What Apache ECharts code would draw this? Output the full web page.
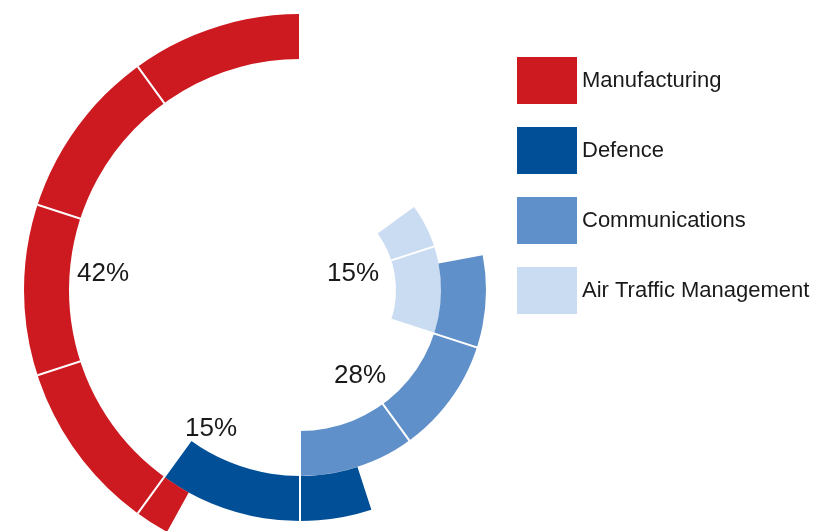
<!DOCTYPE html>
<html>
<head>
<meta charset="utf-8">
<script src="https://cdn.jsdelivr.net/npm/echarts@6/dist/echarts.min.js"></script>
<style>
  html, body { margin: 0; padding: 0; background: #fff; }
  #chart { width: 814px; height: 531px; }
</style>
</head>
<body>
<div id="chart"></div>
<script>
// rings, from the inside out
const rings = ['Air Traffic Management', 'Communications', 'Defence', 'Manufacturing']
const shares = [15, 28, 15, 42]      // % shown in each ring
const starts = [70, 50, 40, 0]       // where each ring begins on the 0-100 dial
const colors = ['#c9dcf1', '#5f90c9', '#014f97', '#cd1a21']
const legendOrder = ['Manufacturing', 'Defence', 'Communications', 'Air Traffic Management']

const chart = echarts.init(document.getElementById('chart'))

// invisible piece that pushes each ring to its start angle
const offsetSeries = {
  name: 'offset',
  type: 'bar',
  coordinateSystem: 'polar',
  stack: 'ring',
  barCategoryGap: '0%',
  silent: true,
  itemStyle: { color: 'rgba(0,0,0,0)' },
  data: starts
}

const ringSeries = rings.map((name, i) => ({
  name: name,
  type: 'bar',
  coordinateSystem: 'polar',
  stack: 'ring',
  barCategoryGap: '0%',
  itemStyle: { color: colors[i] },
  data: rings.map((_, j) => (j === i ? shares[i] : 0))
}))

// percent labels, placed beside their rings
const labelPos = {
  'Manufacturing': [103, 274],
  'Defence': [211, 429],
  'Communications': [360, 376],
  'Air Traffic Management': [353, 274]
}
const labels = rings.map((name, i) => ({
  type: 'text',
  z: 100,
  x: labelPos[name][0],
  y: labelPos[name][1],
  style: {
    text: shares[i] + '%',
    fill: '#1a1a1a',
    font: '26px "Liberation Sans", Arial, sans-serif',
    textAlign: 'center',
    textVerticalAlign: 'middle'
  }
}))

const option = {
  animation: false,
  backgroundColor: '#fff',
  polar: {
    center: [300, 290],
    radius: [96, 276]
  },
  angleAxis: {
    type: 'value',
    min: 0,
    max: 100,
    interval: 10,
    startAngle: 90,
    clockwise: false,
    z: 10,
    axisLine: { show: false },
    axisTick: { show: false },
    axisLabel: { show: false },
    // white dividers every 10%
    splitLine: { show: true, lineStyle: { color: '#fff', width: 2 } }
  },
  radiusAxis: {
    type: 'category',
    data: rings,
    axisLine: { show: false },
    axisTick: { show: false },
    axisLabel: { show: false },
    splitLine: { show: false }
  },
  legend: {
    data: legendOrder,
    orient: 'vertical',
    left: 512,
    top: 52,
    z: 20,
    icon: 'rect',
    itemWidth: 60,
    itemHeight: 47,
    itemGap: 23,
    selectedMode: false,
    textStyle: {
      fontSize: 22,
      color: '#1a1a1a',
      fontFamily: '"Liberation Sans", Arial, sans-serif'
    }
  },
  graphic: labels,
  series: [offsetSeries].concat(ringSeries)
}

chart.setOption(option)
</script>
</body>
</html>
